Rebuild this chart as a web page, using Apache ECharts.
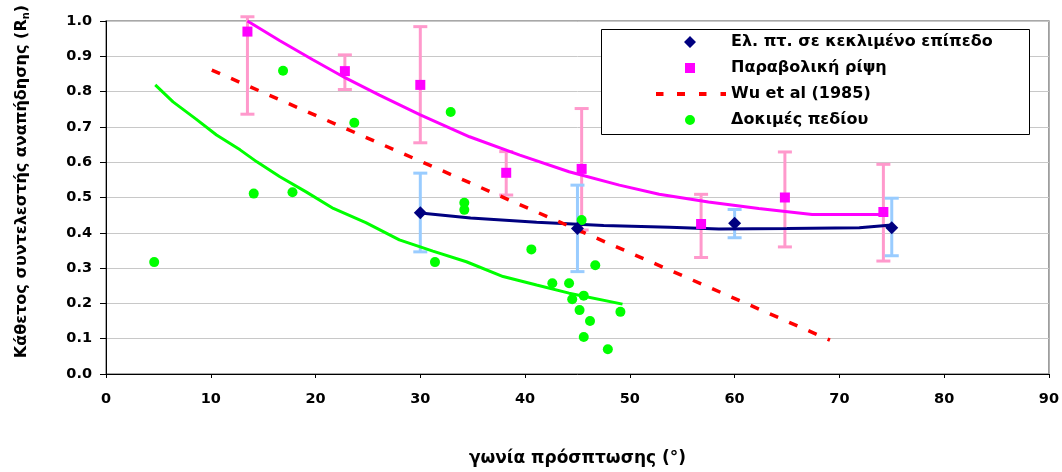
<!DOCTYPE html>
<html>
<head>
<meta charset="utf-8">
<script src="https://cdn.jsdelivr.net/npm/echarts@6/dist/echarts.min.js"></script>
<style>html,body{margin:0;padding:0;background:#fff}#c{width:1062px;height:472px}</style>
</head>
<body>
<div id="c"></div>
<script>
// ---- data ----
const xTicks = [0,10,20,30,40,50,60,70,80,90];
const yTicks = [0,0.1,0.2,0.3,0.4,0.5,0.6,0.7,0.8,0.9,1.0];

const navyName = 'Ελ. πτ. σε κεκλιμένο επίπεδο';
const navyX  = [30, 45, 60, 75];
const navyY  = [0.457, 0.412, 0.427, 0.414];
const navyLo = [0.346, 0.290, 0.386, 0.335];
const navyHi = [0.569, 0.535, 0.466, 0.498];
const navyTrendX = [30, 34.8, 41.1, 47.5, 53.8, 58.5, 65, 71.9, 75];
const navyTrendY = [0.456, 0.442, 0.430, 0.421, 0.416, 0.411, 0.412, 0.414, 0.422];

const magName = 'Παραβολική ρίψη';
const magX  = [13.5, 22.8, 30, 38.2, 45.4, 56.8, 64.8, 74.2];
const magY  = [0.970, 0.858, 0.819, 0.570, 0.581, 0.425, 0.500, 0.459];
const magLo = [0.736, 0.806, 0.655, 0.507, 0.408, 0.330, 0.360, 0.320];
const magHi = [1.012, 0.904, 0.984, 0.630, 0.752, 0.509, 0.629, 0.594];
const magTrendX = [13.5, 16.6, 19.7, 22.9, 26.1, 30, 34.7, 39.5, 44.2, 49, 52.8, 57.5, 62.3, 67.4, 74.2];
const magTrendY = [1.000, 0.944, 0.891, 0.838, 0.790, 0.734, 0.672, 0.620, 0.573, 0.535, 0.509, 0.487, 0.469, 0.452, 0.452];

const wuName = 'Wu et al (1985)';
const wuX = [10.1, 69.1];
const wuY = [0.861, 0.096];

const fieldName = 'Δοκιμές πεδίου';
const greenX = [4.6, 14.1, 16.9, 17.8, 23.7, 31.4, 32.9, 34.2, 34.2, 40.6, 42.6, 44.2, 44.5, 45.2, 45.4, 45.6, 45.6, 46.2, 46.7, 47.9, 49.1];
const greenY = [0.317, 0.511, 0.859, 0.515, 0.712, 0.317, 0.742, 0.485, 0.465, 0.353, 0.257, 0.257, 0.212, 0.181, 0.436, 0.222, 0.105, 0.150, 0.308, 0.070, 0.176];
const greenTrendX = [4.7, 6.4, 8.6, 10.55, 12.8, 14.4, 16.6, 19.1, 21.7, 24.8, 28.0, 31.2, 34.4, 37.9, 41.1, 44.2, 49.3];
const greenTrendY = [0.819, 0.771, 0.722, 0.677, 0.635, 0.601, 0.559, 0.516, 0.469, 0.429, 0.380, 0.348, 0.318, 0.276, 0.252, 0.229, 0.198];

const xTitle = 'γωνία πρόσπτωσης (°)';
const yTitleMain = 'Κάθετος συντελεστής αναπήδησης (R';
const yTitleSub = 'n';

// ---- helpers ----
const zip = (a, b) => a.map((v, i) => [v, b[i]]);
const zip3 = (a, b, c) => a.map((v, i) => [v, b[i], c[i]]);
const FONT = "'DejaVu Sans', Verdana, sans-serif";
// legend icon paths, all sharing a 70x12 box (tiny anchors fix the box size)
const ANCH = ' M0,0L0.01,0L0,0.01Z M70,12L69.99,12L70,11.99Z';
const iconDiamond = 'path://M28,6L34,0L40,6L34,12Z' + ANCH;
const iconSquare  = 'path://M29,1L39,1L39,11L29,11Z' + ANCH;
const iconDash    = 'path://M0,4L7.5,4L7.5,8L0,8Z M21,4L29,4L29,8L21,8Z M43,4L50.5,4L50.5,8L43,8Z M64.5,4L70,4L70,8L64.5,8Z' + ANCH;
const iconCircle  = 'path://M29,6A5,5 0 1,0 39,6A5,5 0 1,0 29,6Z' + ANCH;

function errRender(color) {
  return function (params, api) {
    const x = api.value(0), lo = api.value(1), hi = api.value(2);
    const p1 = api.coord([x, lo]), p2 = api.coord([x, hi]);
    const w = 7;
    const st = { stroke: color, lineWidth: 3 };
    return { type: 'group', children: [
      { type: 'line', shape: { x1: p1[0], y1: p1[1], x2: p2[0], y2: p2[1] }, style: st },
      { type: 'line', shape: { x1: p1[0] - w, y1: p1[1], x2: p1[0] + w, y2: p1[1] }, style: st },
      { type: 'line', shape: { x1: p2[0] - w, y1: p2[1], x2: p2[0] + w, y2: p2[1] }, style: st }
    ]};
  };
}

const chart = echarts.init(document.getElementById('c'), null, { renderer: 'canvas' });
chart.setOption({
  animation: false,
  backgroundColor: '#ffffff',
  textStyle: { fontFamily: FONT },
  grid: { left: 106, right: 12, top: 21, bottom: 98, show: true, borderColor: '#8c8c8c', borderWidth: 1.5, backgroundColor: 'transparent' },
  graphic: [{
    type: 'rect', z: 3, left: 601, top: 29,
    shape: { width: 428, height: 105 },
    style: { fill: '#ffffff', stroke: '#000000', lineWidth: 1 }
  }],
  legend: {
    z: 5, orient: 'vertical', left: 656, top: 34, padding: 0,
    itemWidth: 70, itemHeight: 12, itemGap: 10,
    data: [
      { name: navyName, icon: iconDiamond },
      { name: magName, icon: iconSquare },
      { name: wuName, icon: iconDash },
      { name: fieldName, icon: iconCircle }
    ],
    textStyle: { fontFamily: FONT, fontWeight: 'bold', fontSize: 16, color: '#000' },
    selectedMode: false
  },
  xAxis: {
    type: 'value', min: 0, max: 90, interval: 10,
    name: xTitle, nameLocation: 'middle', nameGap: 76,
    nameTextStyle: { fontFamily: FONT, fontWeight: 'bold', fontSize: 17, color: '#000' },
    axisLine: { lineStyle: { color: '#000', width: 1 } },
    axisTick: { show: true, length: 4, lineStyle: { color: '#000' } },
    axisLabel: { fontFamily: FONT, fontWeight: 'bold', fontSize: 14.5, color: '#000', margin: 18 },
    splitLine: { show: false }
  },
  yAxis: {
    type: 'value', min: 0, max: 1, interval: 0.1,
    name: '{a|' + yTitleMain + '}{s|' + yTitleSub + '}{a|)}',
    nameLocation: 'middle', nameGap: 75, nameRotate: 90,
    nameTextStyle: {
      padding: [0, 0, 0, 32],
      rich: {
        a: { fontFamily: FONT, fontWeight: 'bold', fontSize: 16, color: '#000' },
        s: { fontFamily: FONT, fontWeight: 'bold', fontSize: 10, color: '#000', padding: [8, 0, 0, 0] }
      }
    },
    axisLine: { show: true, lineStyle: { color: '#000', width: 1 } },
    axisTick: { show: true, length: 6, lineStyle: { color: '#000' } },
    axisLabel: { fontFamily: FONT, fontWeight: 'bold', fontSize: 14.5, color: '#000', margin: 14,
      formatter: v => v.toFixed(1) },
    splitLine: { show: true, lineStyle: { color: '#c8c8c8', width: 1 } }
  },
  series: [
    { name: 'errMag', type: 'custom', renderItem: errRender('#ff99cc'), data: zip3(magX, magLo, magHi), z: 2, silent: true },
    { name: 'errNavy', type: 'custom', renderItem: errRender('#99ccff'), data: zip3(navyX, navyLo, navyHi), z: 2, silent: true },
    { name: 'trendGreen', type: 'line', data: zip(greenTrendX, greenTrendY), symbol: 'none', lineStyle: { color: '#00ff00', width: 3 }, z: 3 },
    { name: 'trendMag', type: 'line', data: zip(magTrendX, magTrendY), symbol: 'none', lineStyle: { color: '#ff00ff', width: 3 }, z: 3 },
    { name: 'trendNavy', type: 'line', data: zip(navyTrendX, navyTrendY), symbol: 'none', lineStyle: { color: '#000080', width: 3 }, z: 3 },
    { name: wuName, type: 'line', data: zip(wuX, wuY), symbol: 'none', itemStyle: { color: '#ff0000' },
      lineStyle: { color: '#ff0000', width: 3.5, type: [9, 12] }, z: 3 },
    { name: fieldName, type: 'scatter', data: zip(greenX, greenY), symbol: 'circle', symbolSize: 10,
      itemStyle: { color: '#00ff00', opacity: 1 }, z: 4 },
    { name: magName, type: 'scatter', data: zip(magX, magY), symbol: 'rect', symbolSize: 10,
      itemStyle: { color: '#ff00ff', opacity: 1 }, z: 4 },
    { name: navyName, type: 'scatter', data: zip(navyX, navyY), symbol: 'diamond', symbolSize: 13,
      itemStyle: { color: '#000080', opacity: 1 }, z: 4 }
  ]
});
</script>
</body>
</html>
